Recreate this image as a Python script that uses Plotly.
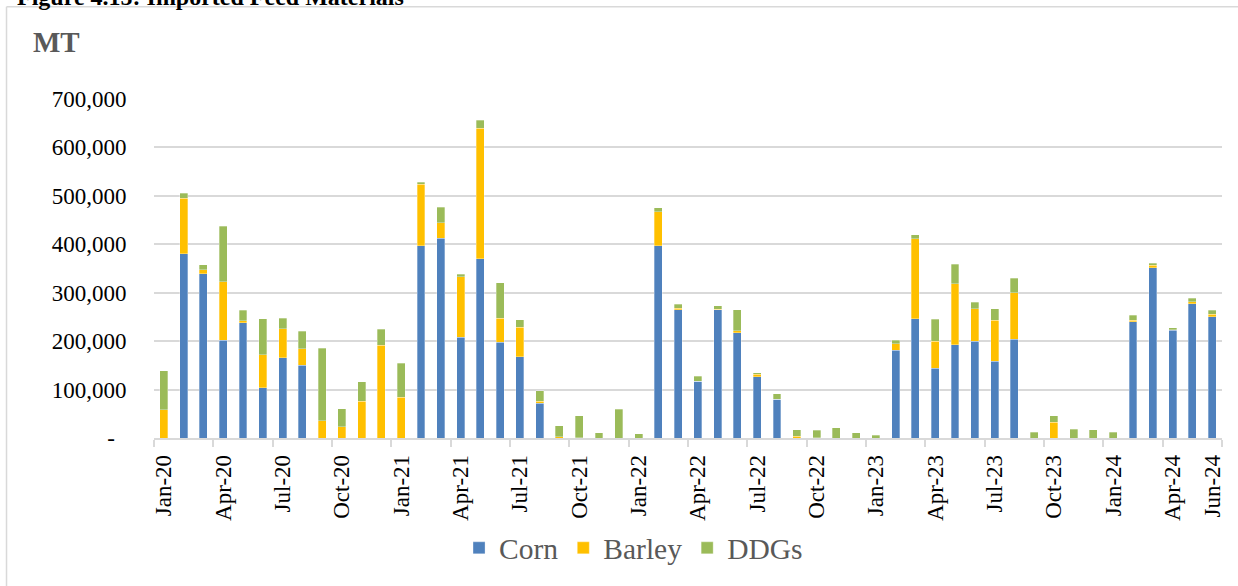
import plotly.graph_objects as go

months = [f"{m}-{y}" for y in ["20", "21", "22", "23"] for m in
          ["Jan", "Feb", "Mar", "Apr", "May", "Jun", "Jul", "Aug", "Sep", "Oct", "Nov", "Dec"]]
months += ["Jan-24", "Feb-24", "Mar-24", "Apr-24", "May-24", "Jun-24"]

corn = [0, 380000, 339000, 202000, 238000, 104000, 166000, 150000, 0, 0, 0, 0,
        0, 397000, 412000, 208000, 370000, 198000, 168000, 72000, 0, 0, 0, 0,
        0, 397000, 265000, 117000, 265000, 217000, 127000, 80000, 0, 0, 0, 0,
        0, 181000, 246000, 144000, 193000, 200000, 159000, 204000, 0, 0, 0, 0,
        0, 240000, 352000, 222000, 277000, 250000]
barley = [58000, 115000, 8000, 121000, 4000, 68000, 60000, 34000, 36000, 23000, 76000, 192000,
          84000, 127000, 32000, 125000, 270000, 49000, 61000, 4000, 3000, 1000, 0, 0,
          0, 70000, 3000, 0, 1000, 4000, 5000, 0, 4000, 1000, 0, 0,
          0, 14000, 165000, 56000, 126000, 67000, 84000, 96000, 0, 33000, 0, 0,
          0, 3000, 5000, 2000, 4000, 6000]
ddgs = [81000, 10000, 11000, 114000, 22000, 74000, 21000, 36000, 149000, 37000, 40000, 33000,
        70000, 4000, 32000, 5000, 16000, 74000, 15000, 22000, 22000, 45000, 11000, 59000,
        9000, 8000, 8000, 11000, 7000, 44000, 3000, 11000, 13000, 15000, 21000, 11000,
        6000, 7000, 9000, 45000, 40000, 13000, 24000, 30000, 12000, 13000, 18000, 17000,
        12000, 10000, 4000, 4000, 8000, 8000]

tick_labels = ["Jan-20", "Apr-20", "Jul-20", "Oct-20", "Jan-21", "Apr-21", "Jul-21", "Oct-21",
               "Jan-22", "Apr-22", "Jul-22", "Oct-22", "Jan-23", "Apr-23", "Jul-23", "Oct-23",
               "Jan-24", "Apr-24", "Jun-24"]
y_ticks = [0, 100000, 200000, 300000, 400000, 500000, 600000, 700000]
y_tick_text = ["-\u00a0\u00a0"] + [f"{v:,}" for v in y_ticks[1:]]

x_idx = list(range(len(months)))
tick_pos = [months.index(t) for t in tick_labels]
boundaries = [i - 0.5 for i in x_idx[::3]] + [len(months) - 0.5]

series = [("Corn", corn, "#4F81BD"), ("Barley", barley, "#FFC000"), ("DDGs", ddgs, "#9BBB59")]

fig = go.Figure()
for name, vals, col in series:
    fig.add_trace(go.Bar(
        x=x_idx, y=vals, name=name, customdata=months,
        marker=dict(color=col, line=dict(color="rgba(255,255,255,0.5)", width=0.6)),
        hovertemplate="%{customdata}: %{y:,}<extra>" + name + "</extra>",
    ))

grid = "#D9D9D9"
fig.update_layout(
    barmode="stack",
    bargap=0.6,
    width=1238, height=586,
    margin=dict(l=154, r=16, t=99, b=146),
    paper_bgcolor="white", plot_bgcolor="white",
    font=dict(family="Liberation Serif, Times New Roman, serif", color="#000000", size=23),
    showlegend=True,
    legend=dict(orientation="h", x=0.449, y=-0.325, xanchor="center", yanchor="middle",
                traceorder="normal",
                font=dict(size=29.5, color="#595959"), itemwidth=30, tracegroupgap=0),
    xaxis=dict(
        range=[-0.5, len(months) - 0.5],
        tickmode="array", tickvals=tick_pos, ticktext=tick_labels,
        tickangle=-90, ticks="outside", ticklen=6, tickcolor="rgba(0,0,0,0)",
        showgrid=False, zeroline=False,
        showline=True, linecolor=grid, linewidth=1.5,
        tickfont=dict(size=23, color="#000000"),
        minor=dict(tickmode="array", tickvals=boundaries, ticks="outside", ticklen=7,
                   tickcolor=grid, tickwidth=1.5, showgrid=False),
    ),
    yaxis=dict(
        range=[0, 700000],
        tickmode="array", tickvals=y_ticks, ticktext=y_tick_text,
        showgrid=True, gridcolor=grid, gridwidth=1.5, zeroline=False,
        showline=False, ticks="outside", ticklen=22, tickcolor="rgba(0,0,0,0)",
        tickfont=dict(size=23, color="#000000"),
    ),
    annotations=[
        dict(text="<b>MT</b>", xref="paper", yref="paper", x=-0.115, y=1.168,
             xanchor="left", yanchor="middle", showarrow=False,
             font=dict(size=29, color="#595959")),
        dict(text="<b>Figure 4.15: Imported Feed Materials</b>", xref="paper", yref="paper",
             x=-0.13, y=1.302, xanchor="left", yanchor="middle", showarrow=False,
             font=dict(size=24, color="#000000")),
    ],
    shapes=[
        dict(type="line", xref="paper", yref="paper", x0=-0.1381, x1=-0.1381, y0=1.2723, y1=-0.46,
             line=dict(color=grid, width=1.5)),
        dict(type="line", xref="paper", yref="paper", x0=-0.1381, x1=1.03, y0=1.2723, y1=1.2723,
             line=dict(color=grid, width=1.5)),
    ],
)

fig.write_html("out.html", config={"displayModeBar": False},
               post_script="document.body.style.margin='0';document.body.style.overflow='hidden';")
